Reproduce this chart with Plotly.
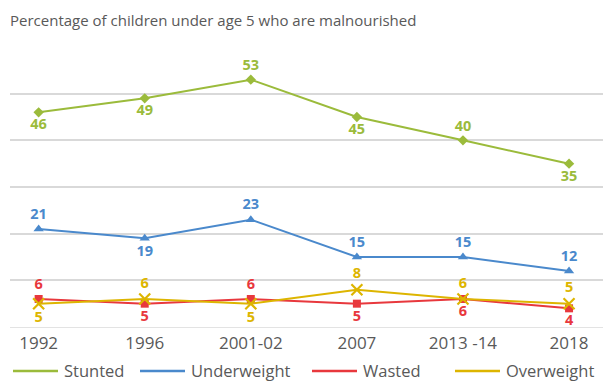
import plotly.graph_objects as go

# Survey rounds and malnutrition rates (% of children under 5)
years = ["1992", "1996", "2001-02", "2007", "2013 -14", "2018"]
stunted = [46, 49, 53, 45, 40, 35]
underweight = [21, 19, 23, 15, 15, 12]
wasted = [6, 5, 6, 5, 6, 4]
overweight = [5, 6, 5, 8, 6, 5]

# Where each data label sits relative to its point
stunted_pos = ["bottom", "bottom", "top", "bottom", "top", "bottom"]
underweight_pos = ["top", "bottom", "top", "top", "top", "top"]
wasted_pos = ["top", "bottom", "top", "bottom", "bottom", "bottom"]
overweight_pos = ["bottom", "top", "bottom", "top", "top", "top"]

FONT = "Open Sans"
GREY = "#595959"
W, H = 603, 383
PLOT_L, PLOT_R, PLOT_T, PLOT_B = 10, 603, 47, 327

series = [
    ("Stunted", stunted, stunted_pos, "#9BBB3B", dict(symbol="diamond", size=8)),
    ("Underweight", underweight, underweight_pos, "#4A89CC", dict(symbol="triangle-up", size=9)),
    ("Wasted", wasted, wasted_pos, "#E8383D", dict(symbol="square", size=8)),
    ("Overweight", overweight, overweight_pos, "#DDB500",
     dict(symbol="x-thin", size=11, line=dict(width=2.2))),
]

fig = go.Figure()
for name, vals, pos, color, mk in series:
    marker = dict(color=color, **mk)
    if "line" in marker:
        marker["line"]["color"] = color
    fig.add_trace(go.Scatter(
        x=years, y=vals, mode="lines+markers+text", name=name,
        line=dict(color=color, width=2), marker=marker,
        text=[str(v) for v in vals],
        textposition=[p + " center" for p in pos],
        textfont=dict(family=FONT, size=14.5, color=color, weight="bold"),
        showlegend=False, cliponaxis=False,
    ))


def px_x(px):
    return (px - PLOT_L) / (PLOT_R - PLOT_L)


def px_y(py):
    return (PLOT_B - py) / (PLOT_B - PLOT_T)


# Legend row below the axis: line sample followed by the series name
legend_starts = [13, 140, 312, 455]
legend_y = 371
for (name, vals, pos, color, mk), x0 in zip(series, legend_starts):
    fig.add_shape(
        type="line", xref="paper", yref="paper",
        x0=px_x(x0), x1=px_x(x0 + 45), y0=px_y(legend_y), y1=px_y(legend_y),
        line=dict(color=color, width=2.5),
    )
    fig.add_annotation(
        xref="paper", yref="paper", x=px_x(x0 + 49), y=px_y(legend_y),
        xanchor="left", yanchor="middle", showarrow=False,
        text=name, font=dict(family=FONT, size=16.5, color=GREY),
    )

fig.update_layout(
    width=W, height=H,
    margin=dict(l=PLOT_L, r=W - PLOT_R, t=PLOT_T, b=H - PLOT_B, autoexpand=False),
    paper_bgcolor="white", plot_bgcolor="white",
    font=dict(family=FONT, color=GREY),
    showlegend=False,
    title=dict(
        text="Percentage of children under age 5 who are malnourished",
        x=10 / W, xanchor="left", xref="container",
        y=1 - 21 / H, yanchor="middle", yref="container",
        font=dict(family=FONT, size=15, color=GREY),
    ),
    xaxis=dict(
        type="category", range=[-0.27, 5.32],
        showgrid=False, zeroline=False, showline=False,
        ticks="", ticklabelstandoff=4,
        tickfont=dict(family=FONT, size=17, color=GREY),
    ),
    yaxis=dict(
        range=[0, 60], dtick=10, showticklabels=False,
        showgrid=True, gridcolor="#D9D9D9", gridwidth=1.8,
        zeroline=True, zerolinecolor="#E3E3E3", zerolinewidth=1,
    ),
)

fig.write_html("out.html")
